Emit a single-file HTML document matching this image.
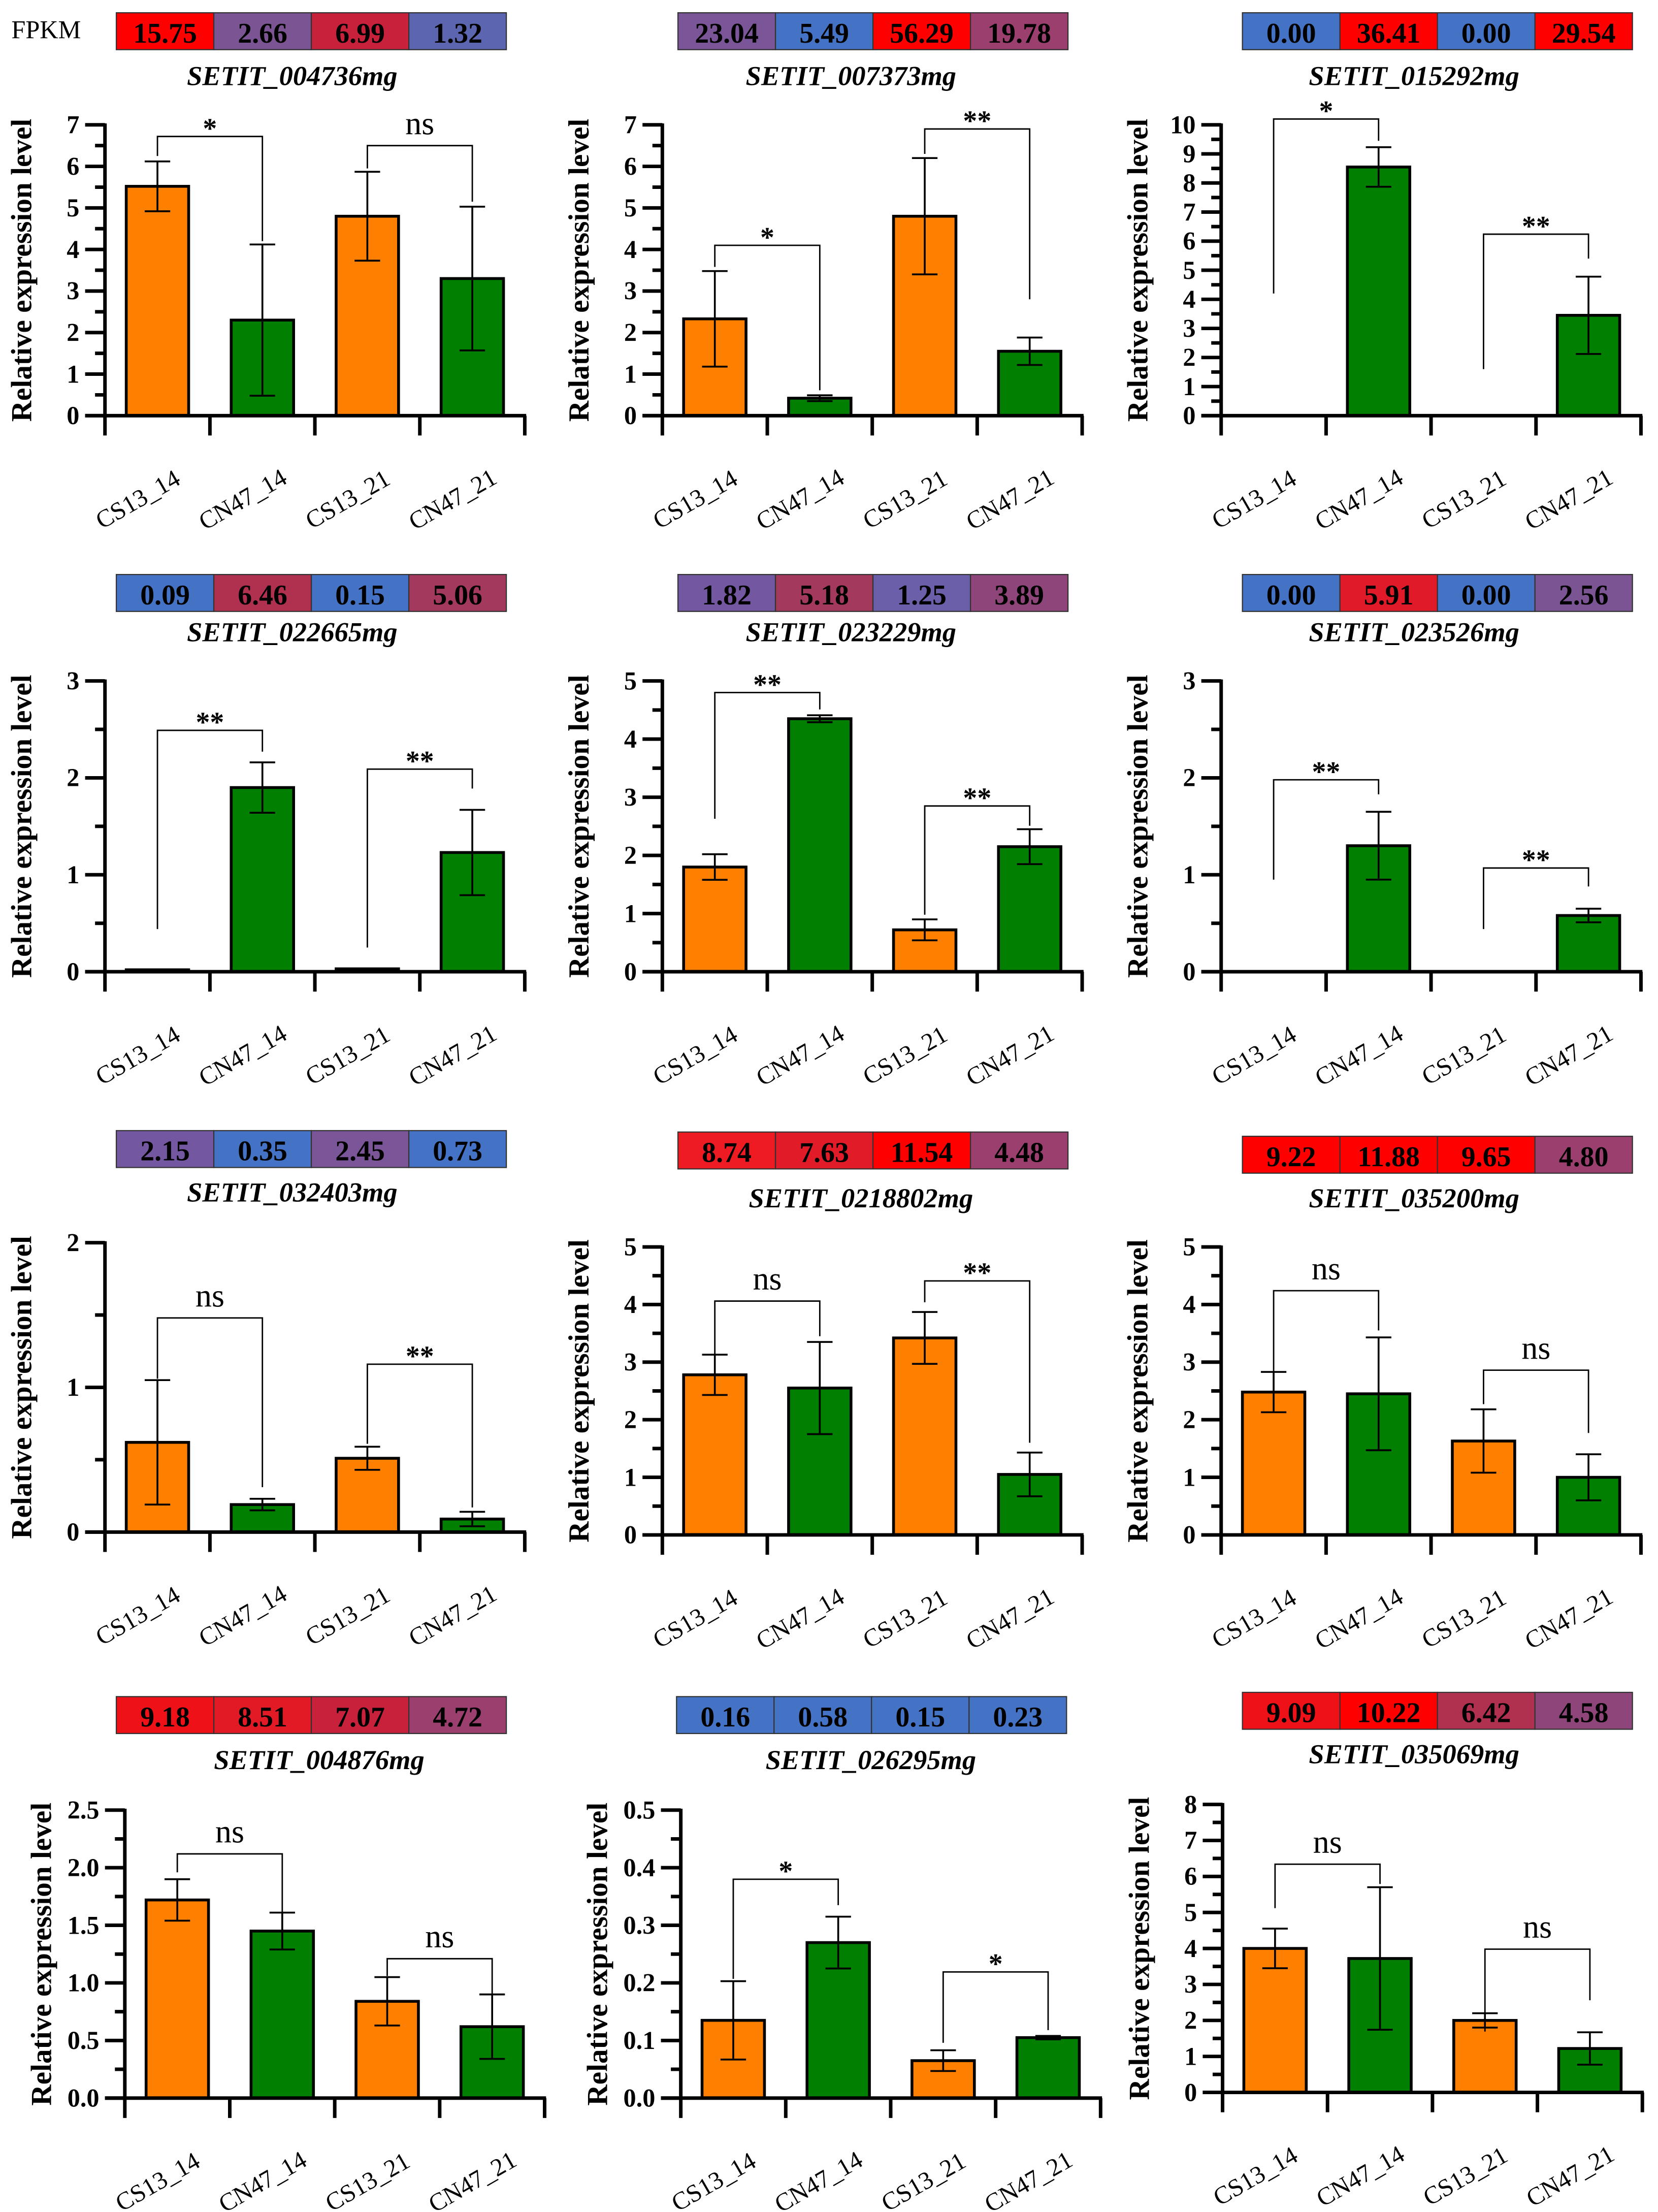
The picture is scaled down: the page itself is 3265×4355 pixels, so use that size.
<!DOCTYPE html>
<html><head><meta charset="utf-8"><style>
html,body{margin:0;padding:0;background:#fff;}
svg{display:block;font-family:"Liberation Serif","DejaVu Serif",serif;}
text{font-family:"Liberation Serif","DejaVu Serif",serif;}
</style></head>
<body>
<svg id="fig" xmlns="http://www.w3.org/2000/svg" width="3265" height="4355" viewBox="0 0 1169 1559.3" font-family="Liberation Serif, DejaVu Serif, serif">
<rect x="0" y="0" width="1169" height="1560" fill="#fff"/>
<text x="8" y="27" font-size="18">FPKM</text>
</svg>
<script>
const categories = ["CS13_14","CN47_14","CS13_21","CN47_21"];
const geneNames = ["SETIT_004736mg","SETIT_007373mg","SETIT_015292mg","SETIT_022665mg","SETIT_023229mg","SETIT_023526mg","SETIT_032403mg","SETIT_0218802mg","SETIT_035200mg","SETIT_004876mg","SETIT_026295mg","SETIT_035069mg"];
const fpkmValues = [
 ["15.75","2.66","6.99","1.32"],["23.04","5.49","56.29","19.78"],["0.00","36.41","0.00","29.54"],
 ["0.09","6.46","0.15","5.06"],["1.82","5.18","1.25","3.89"],["0.00","5.91","0.00","2.56"],
 ["2.15","0.35","2.45","0.73"],["8.74","7.63","11.54","4.48"],["9.22","11.88","9.65","4.80"],
 ["9.18","8.51","7.07","4.72"],["0.16","0.58","0.15","0.23"],["9.09","10.22","6.42","4.58"]];
const meanValues = [
 [5.52,2.3,4.8,3.3],[2.33,0.42,4.8,1.55],[0,8.55,0,3.45],
 [0.02,1.9,0.03,1.23],[1.8,4.35,0.72,2.15],[0,1.3,0,0.58],
 [0.62,0.19,0.51,0.09],[2.78,2.55,3.42,1.05],[2.48,2.45,1.63,1.0],
 [1.72,1.45,0.84,0.62],[0.135,0.27,0.065,0.105],[4.0,3.72,2.0,1.22]];
const errValues = [
 [0.6,1.82,1.07,1.73],[1.15,0.07,1.4,0.33],[0,0.68,0,1.33],
 [0,0.26,0,0.44],[0.22,0.06,0.18,0.3],[0,0.35,0,0.07],
 [0.43,0.04,0.08,0.05],[0.35,0.8,0.45,0.38],[0.35,0.98,0.55,0.4],
 [0.18,0.16,0.21,0.28],[0.068,0.045,0.018,0.003],[0.55,1.98,0.2,0.45]];
const yMaxValues = [7,7,10,3,5,3,2,5,5,2.5,0.5,8];
const yStepValues = [1,1,1,1,1,1,1,1,1,0.5,0.1,1];
const bracketValues = [
 [[6.72,6.25,4.2],[6.5,5.95,5.15]],[[4.1,3.58,0.61],[6.9,6.3,2.8]],[[10.2,4.2,9.45],[6.24,1.6,5.4]],
 [[2.49,0.44,2.27],[2.09,0.25,1.89]],[[4.8,2.63,4.51],[2.85,0.98,2.51]],[[1.98,0.95,1.83],[1.07,0.44,0.88]],
 [[1.48,1.06,0.31],[1.16,0.61,0.17]],[[4.06,3.13,3.45],[4.41,4.04,1.6]],[[4.24,2.8,3.55],[2.86,2.27,1.77]],
 [[2.12,1.96,1.59],[1.21,1.06,0.85]],[[0.38,0.207,0.335],[0.219,0.096,0.118]],[[6.34,5.12,5.79],[3.98,1.69,2.56]]];
const sigLabels = [["*","ns"],["*","**"],["*","**"],["**","**"],["**","**"],["**","**"],["ns","**"],["ns","**"],["ns","ns"],["ns","ns"],["*","*"],["ns","ns"]];

const R="#ff0000",B="#4472c4";
const cellColors=[
 [R,"#7b5494","#c8213c","#5c66b0"],["#7a5597",B,R,"#9a3f6e"],[B,R,B,R],
 [B,"#b0304f",B,"#a33a5e"],["#7357a0","#a33a5e","#6a5fa8","#8e467a"],[B,"#e01a28",B,"#7b5494"],
 ["#7357a0",B,"#7a5597",B],["#ee1b22","#e11c28",R,"#9a3f6e"],[R,R,R,"#9a3f6e"],
 ["#ee1118","#e11a25","#c8213c","#9a3f6e"],[B,B,B,B],["#ee1118",R,"#b0304f","#8e467a"]];
const layout=[
 [74,293,88,82,9,206,54],[467,293,88,478,9,600,54],[861,293,88,876,9,997,54],
 [74,685,480,82,405,206,446],[467,685,480,478,405,600,446],[861,685,480,876,405,997,446],
 [74,1080,876,82,797,206,841],[467,1082,879,478,798,607,845],[861,1082,879,876,801,997,845],
 [88,1479,1276,82,1196,225,1241],[480,1479,1276,477,1196,614,1241],[862,1475,1272,876,1193,997,1237]];
const NS="http://www.w3.org/2000/svg";
const FF="Liberation Serif, DejaVu Serif, serif";
const svg=document.getElementById("fig");
function mk(tag,attrs,parent){const e=document.createElementNS(NS,tag);for(const k in attrs)e.setAttribute(k,attrs[k]);if(tag==="text")e.setAttribute("font-family",FF);(parent||svg).appendChild(e);return e;}
function line(g,x1,y1,x2,y2,w){return mk("line",{x1,y1,x2,y2,stroke:"#000","stroke-width":w},g);}

for(let p=0;p<12;p++){
 const [ax0,base,top,bx,by,tx,ty]=layout[p];
 const ymax=yMaxValues[p],step=yStepValues[p];
 const catW=74, ax1=ax0+catW*4;
 const yS=v=>base-(v/ymax)*(base-top);
 const xC=i=>ax0+catW*(i+0.5);
 const g=mk("g",{});
 
 
 const cw=68.75;
 for(let i=0;i<4;i++){
  const r=mk("rect",{x:bx+i*cw,y:by,width:cw,height:26,fill:cellColors[p][i],stroke:"#333","stroke-width":0.8},g);
  
  
  const t=mk("text",{x:bx+i*cw+cw/2,y:by+21,"font-size":20,"font-weight":"bold","text-anchor":"middle"},g);
  t.textContent=fpkmValues[p][i];
  
  
 }
 const tt=mk("text",{x:tx,y:ty+6,"font-size":19.5,"font-weight":"bold","font-style":"italic","text-anchor":"middle"},g);
 tt.textContent=geneNames[p];
 
 
 const yt=mk("text",{x:0,y:0,"font-size":20.5,"font-weight":"bold","text-anchor":"middle",transform:`translate(${ax0-52},${(base+top)/2}) rotate(-90)`},g);
 yt.textContent="Relative expression level";
 
 
 for(let i=0;i<4;i++){
  const v=meanValues[p][i],e=errValues[p][i],cx=xC(i),bw=44;
  const h=base-yS(v);
  const b=mk("rect",{x:cx-bw/2,y:yS(v),width:bw,height:Math.max(h,0),fill:i%2?"#007f00":"#ff7f00",stroke:"#000","stroke-width":v>0?2:0},g);
  
  
  if(e>0){
   line(g,cx,yS(v+e),cx,yS(v-e),1.3);
   line(g,cx-9,yS(v+e),cx+9,yS(v+e),1.3);
   line(g,cx-9,yS(v-e),cx+9,yS(v-e),1.3);
  }
 }
 line(g,ax0,top-1,ax0,base+14,2.5);
 line(g,ax0-14,base,ax1+1,base,2.5);
 for(let i=1;i<=4;i++) line(g,ax0+catW*i,base,ax0+catW*i,base+14,2.5);
 const n=Math.round(ymax/step);
 for(let k=0;k<=n;k++){
  const v=k*step,y=yS(v);
  line(g,ax0-14,y,ax0,y,2.5);
  if(k<n) line(g,ax0-7,yS(v+step/2),ax0,yS(v+step/2),2.5);
  const lb=mk("text",{x:ax0-18,y:y+6,"font-size":18,"font-weight":"bold","text-anchor":"end"},g);
  lb.textContent=step<1?v.toFixed(1):String(Math.round(v));
  
  
 }
 for(let i=0;i<4;i++){
  const cx=xC(i);
  const xl=mk("text",{x:0,y:0,"font-size":17.5,"text-anchor":"middle",transform:`translate(${cx-11},${base+64}) rotate(-30)`},g);
  xl.textContent=categories[i];
  
  
 }
 for(let k=0;k<2;k++){
  const [tv,lv,rv]=bracketValues[p][k];
  const x1=xC(2*k),x2=xC(2*k+1);
  const pl=mk("polyline",{points:`${x1},${yS(lv)} ${x1},${yS(tv)} ${x2},${yS(tv)} ${x2},${yS(rv)}`,fill:"none",stroke:"#000","stroke-width":1},g);
  
  
  const lab=sigLabels[p][k];
  const st=mk("text",{x:(x1+x2)/2,y:lab==="ns"?yS(tv)-8:yS(tv)+1,"font-size":lab==="ns"?23:20,"font-weight":lab==="ns"?"normal":"bold","text-anchor":"middle"},g);
  st.textContent=lab;
  
  
 }
}
</script>
</body></html>
